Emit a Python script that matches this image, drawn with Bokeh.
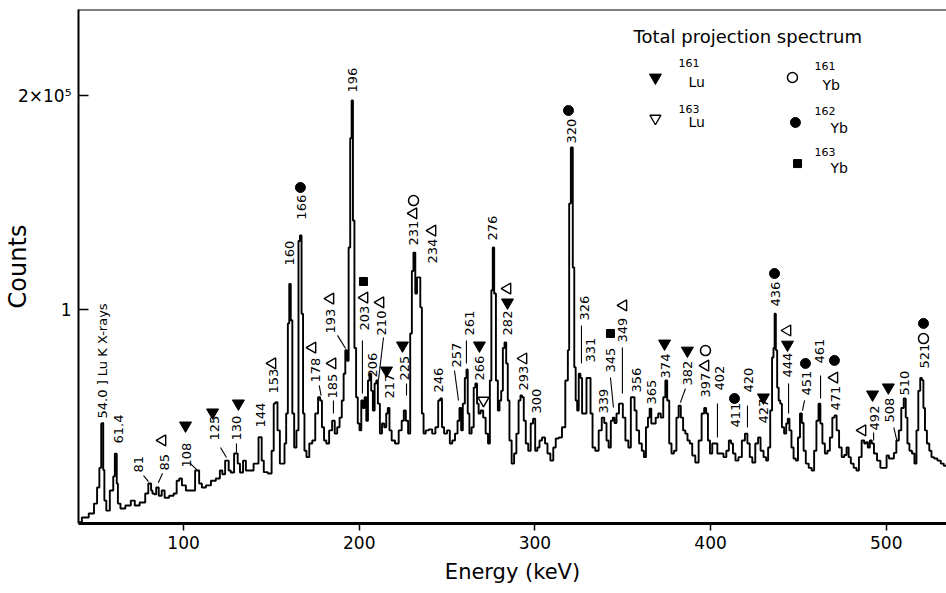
import math
from bokeh.plotting import figure
from bokeh.models import Range1d, FixedTicker, Label, Span
from bokeh.core.properties import value
from bokeh.embed import file_html
from bokeh.resources import INLINE

FONT = "DejaVu Sans"

# Total projection spectrum: energy (keV) and counts (in units of 10^3)
energy_kev = [
    40.2, 44, 48, 50, 51.5, 52.6, 53.6, 54.1, 54.4, 55.4,
    56.6, 59.4, 60.5, 61.2, 61.6, 62.3, 62.9, 65.2, 68.5, 71.4,
    73, 77, 79.3, 80.5, 81.2, 81.8, 82.7, 83.8, 85, 86.7,
    88.4, 90, 93.5, 95.2, 96.9, 98.2, 99.9, 102.7, 105.6, 107.5,
    108.1, 109.6, 111.2, 114.2, 116.9, 119.8, 121.5, 122.6, 124.7, 125.3,
    126, 127.7, 129.8, 130.4, 131.2, 133, 134.7, 136.2, 137.9, 141.8,
    143.5, 144.2, 144.7, 146.6, 149.3, 150.9, 151.7, 152.8, 154.1, 155.5,
    157, 157.9, 158.9, 159.8, 160.5, 161.5, 162.3, 163.6, 164.9, 165.9,
    166.6, 167.7, 168.3, 169.3, 170.6, 172.5, 174, 175.9, 177.2, 178.2,
    179.3, 180.6, 181.9, 183.8, 185.3, 186.8, 188.1, 189.5, 190.6, 191.6,
    192.5, 193.5, 194.4, 195.3, 196, 196.8, 197.7, 198.7, 199.6, 200.7,
    201.6, 202.5, 203.5, 204.5, 205.4, 206.3, 207.3, 208.2, 209.3, 210.1,
    211.1, 212.4, 213.5, 214.9, 215.8, 216.7, 217.7, 219.2, 221.5, 223.4,
    224.9, 225.8, 227.2, 228.4, 229.6, 230.3, 231.4, 232.4, 233.3, 234.3,
    235.2, 236.1, 237.1, 238.6, 240.6, 242.4, 244.3, 245.6, 246.6, 247.6,
    249, 250.9, 252.2, 253.7, 255.3, 256.6, 257.5, 258.5, 259.4, 260.8,
    261.3, 262.2, 263.2, 264.7, 265.6, 266.6, 267.5, 268.4, 269.9, 271.2,
    272.7, 273.9, 274.8, 275.6, 276.4, 277.2, 278.4, 279.4, 280.3, 281.3,
    282.2, 283.2, 284.1, 285, 286, 287.5, 288.8, 290.1, 291.3, 292.2,
    293.2, 294.1, 295.5, 296.9, 298.3, 299.6, 300.7, 302.1, 303.1, 305,
    306.5, 307.8, 309.8, 311.1, 312.6, 314.5, 316.3, 318.3, 319.2, 319.8,
    321.1, 322, 322.8, 323.6, 324.5, 325.4, 326.4, 327.3, 328.7, 330,
    331.1, 332.2, 333.4, 335.3, 337.3, 338.8, 340.1, 341.4, 342.5, 343.9,
    344.8, 345.8, 347.1, 348.6, 349.6, 350.5, 352.5, 353.9, 355.3, 356.2,
    357.2, 358.5, 360.1, 361.6, 362.5, 363.9, 364.8, 365.8, 366.7, 368,
    369.5, 370.9, 372.4, 373.7, 374.8, 375.8, 377.1, 378.4, 379.9, 381.2,
    382.4, 383.7, 385, 386.2, 387.5, 388.8, 390.3, 392.3, 394.1, 395.7,
    397, 397.9, 399.1, 400.2, 401.7, 403.2, 404.5, 406.4, 408.3, 409.6,
    411.2, 412.1, 413.4, 414.9, 416.8, 418.8, 420.3, 421.6, 423, 424.5,
    426.4, 427.7, 429.2, 431.1, 432.1, 433.4, 434.5, 435.5, 436.1, 436.8,
    437.5, 438.3, 439.2, 440.1, 441.1, 442.6, 443.5, 444.4, 445.4, 446.7,
    447.8, 449.2, 450.3, 451.5, 452.4, 453.5, 454.9, 456.8, 458.3, 459.6,
    460.9, 462, 463, 464.3, 465.8, 467.2, 468.6, 470, 471.1, 472.4,
    473.9, 475.4, 476.8, 478, 479.2, 480.5, 482.4, 483.7, 485.2, 486.8,
    488.1, 489, 490, 491.3, 492.2, 493.8, 495.7, 497.6, 499.5, 500.9,
    502.2, 503.7, 505, 506.5, 507.8, 509.3, 510.6, 511.6, 512.5, 513.9,
    515.4, 516.7, 517.7, 518.8, 519.9, 520.7, 521.6, 522.5, 523.8, 525.2,
    526.3, 528.2, 530.1, 532, 533.5, 534.3,
]
counts_k = [
    0.6, 2.8, 4.7, 9.3, 16.8, 26, 46.7, 47, 25, 10.7,
    6, 15.4, 22, 32.6, 32.6, 18.7, 9.3, 7, 8.4, 10.7,
    8.4, 9.8, 14, 18.7, 18.7, 15.4, 14, 13.6, 16.8, 13,
    15.4, 12, 13, 14, 20, 21, 17.8, 15.4, 15.4, 24.8,
    24.8, 18.7, 16.8, 17.8, 20, 21, 24.8, 23, 29.4, 29.4,
    24.8, 23.8, 32.7, 32.7, 28, 23.8, 29.4, 24.8, 24.8, 28,
    40.3, 40.3, 29.4, 24, 23.4, 34, 56, 56.7, 43.5, 28,
    28, 37.4, 51.4, 93.5, 112, 95, 51.4, 35.5, 43.5, 132,
    134.6, 98, 51.4, 34, 31, 37.4, 38.8, 51.4, 59, 57.5,
    45, 38.8, 37.4, 43.5, 48, 42, 45, 49.5, 57.5, 70,
    81, 76, 129, 180, 197.7, 141.6, 82, 59, 46.7, 43.5,
    57.5, 54, 59, 48, 66.8, 70, 62, 52.8, 65.4, 66.8,
    56, 42, 46.7, 45, 51.4, 54, 43.5, 38.8, 37.4, 43.5,
    48, 52.8, 48, 42, 88.8, 118, 126.6, 107.5, 115, 115,
    101, 51.4, 42, 43.5, 44, 42, 45, 57.5, 58.4, 45,
    42, 43.5, 37.4, 38.8, 42, 48, 54, 43.5, 56, 68,
    72, 51.4, 42, 45, 63.5, 65.4, 56, 51.4, 52.8, 49.5,
    42, 37.4, 66.8, 109, 129, 107.5, 66.8, 52.8, 57.5, 62,
    82, 84.6, 74.8, 57.5, 38.8, 28, 32.7, 42, 57.5, 59.8,
    59, 48, 37.4, 34, 46.7, 49, 34, 35.5, 38.8, 40.2,
    37.4, 32.7, 29.4, 35.5, 39.7, 40.2, 45, 66.8, 81, 149.5,
    175.7, 119.6, 73, 57.5, 52.8, 70, 68, 51.4, 51.4, 68,
    68, 51.4, 35.5, 34, 43.5, 49.5, 47, 38.8, 35.5, 48,
    49.5, 47, 51.4, 56, 56, 49.5, 38.8, 35.5, 59, 59,
    52.8, 43.5, 37.4, 34, 31, 45, 49.5, 53.7, 46.7, 46.7,
    49.5, 51.4, 49.5, 59, 66.8, 57.5, 37.4, 32.7, 34, 49.5,
    55, 49.5, 43.5, 42, 38.8, 37.4, 31.8, 28.5, 38.8, 51.4,
    54, 51.4, 38.8, 32.7, 37.4, 37.4, 32.7, 32.7, 31, 34,
    38.8, 37.4, 32.7, 29.4, 31, 38.8, 42, 37.4, 31, 28.5,
    37.4, 40.2, 34, 31, 29.4, 35.5, 52.8, 77.6, 82, 98,
    81, 63.5, 57.5, 56, 45, 42, 46.7, 49, 43.5, 35.5,
    30.4, 29.4, 40.2, 51.4, 47, 34, 28, 26, 24.8, 34,
    48, 56, 46.7, 37.4, 32.7, 34, 40.2, 49.5, 50.5, 43.5,
    35.5, 31, 32, 35.5, 31, 28, 26, 24.8, 31, 38.8,
    37.4, 38, 35.5, 38.8, 37.4, 32.7, 29.4, 26, 26, 31.8,
    30.4, 30.4, 33, 38.8, 43.5, 54, 58.4, 49.5, 37.4, 34,
    32.7, 28, 43.5, 62, 68, 67, 54, 43.5, 37.4, 34,
    31, 30.4, 29.4, 28, 27, 27,
]

# Peak labels (energies in keV) with the point where each vertical label starts
peak_labels = ["54.0 ] Lu K X-rays", "61.4", "81", "85", "108", "125", "130", "144",
               "153", "160", "166", "178", "185", "193", "196", "203", "206", "210",
               "217", "225", "231", "234", "246", "257", "261", "266", "276", "282",
               "293", "300", "320", "326", "331", "339", "345", "349", "356", "365",
               "374", "382", "397", "402", "411", "420", "427", "436", "444", "451",
               "461", "471", "492", "508", "510", "521"]
label_x = [54.1, 62.7, 74.3, 89.1, 101.7, 117.6, 130.1, 143.8,
           151.2, 160.3, 167.1, 175.1, 184.8, 183.6, 196.1, 203.0, 207.5, 212.7,
           217.2, 225.7, 230.9, 241.7, 245.1, 255.3, 262.7, 268.4, 275.8, 284.4,
           293.5, 300.9, 320.8, 328.2, 331.6, 339.0, 343.0, 349.8, 357.8, 366.3,
           374.3, 386.8, 397.1, 405.0, 414.2, 421.6, 430.1, 436.9, 443.8, 454.6,
           462.0, 471.1, 493.3, 501.8, 510.4, 521.8]
label_y = [49.1, 37.4, 23.8, 24.8, 26.2, 38.8, 38.8, 44.9,
           60.7, 120.6, 142.0, 65.9, 58.4, 88.8, 201.4, 90.2, 68.2, 87.9,
           58.4, 66.8, 129.9, 121.5, 61.2, 72.9, 87.9, 66.8, 132.2, 87.9,
           62.1, 51.4, 177.6, 94.9, 75.2, 51.4, 70.6, 84.6, 61.2, 55.6,
           67.8, 64.5, 58.9, 62.1, 44.9, 61.2, 46.7, 101.4, 68.2, 59.8,
           74.8, 52.8, 43.5, 47.2, 59.8, 72.4]

# Leader lines joining labels to their peaks
lead_x0 = [77.2, 85.6, 103.9, 121.0, 130.1, 177.2, 185.3, 187.6, 201.8, 213.8, 226.9, 254.2,
           261.0, 326.5, 343.0, 349.8, 385.7, 403.9, 421.0, 444.4, 453.5, 462.6, 492.8, 504.3]
lead_y0 = [22.4, 19.0, 28.0, 35.5, 37.4, 64.5, 57.5, 87.9, 85.5, 86.9, 65.4, 71.5,
           85.5, 92.5, 68.2, 82.2, 63.1, 56.1, 55.1, 65.4, 57.5, 69.2, 42.5, 44.9]
lead_x1 = [80.0, 88.0, 107.9, 124.4, 130.1, 178.3, 185.3, 192.2, 201.8, 210.9, 226.9, 256.5,
           261.0, 326.5, 344.7, 349.8, 382.8, 403.9, 421.0, 444.4, 452.3, 462.6, 492.8, 506.0]
lead_y1 = [19.6, 23.5, 24.8, 30.8, 33.2, 59.8, 51.4, 81.8, 60.7, 66.8, 59.8, 57.5,
           74.8, 74.8, 54.2, 60.7, 56.5, 40.2, 44.9, 51.4, 52.8, 58.4, 38.8, 38.8]

# Isotope assignment symbols
lu161_x = [101.1, 116.5, 131.2, 215.5, 224.6, 268.4, 284.4, 373.8, 386.8, 430.1, 443.8, 492.2, 501.2]
lu161_y = [45.8, 51.9, 56.1, 71.5, 83.2, 83.2, 103.3, 84.1, 80.8, 58.9, 83.6, 60.3, 63.6]
lu163_x = [88.0, 150.6, 173.4, 184.8, 183.6, 203.0, 212.1, 230.9, 241.7, 284.4, 293.5,
           350.4, 397.1, 443.8, 470.5, 486.5]
lu163_y = [38.8, 74.8, 82.2, 74.8, 105.1, 105.6, 103.3, 144.9, 136.9, 109.8, 77.1,
           101.9, 73.8, 90.2, 68.2, 43.5]
lu163_down_x = [270.7]
lu163_down_y = [57.5]
yb161_x = [230.9, 397.1, 521.2]
yb161_y = [150.9, 80.8, 86.4]
yb162_x = [166.5, 319.1, 413.6, 436.4, 454.0, 470.5, 521.2]
yb162_y = [157.0, 193.0, 58.4, 116.8, 74.8, 76.2, 93.5]
yb163_x = [202.4, 343.0]
yb163_y = [113.1, 88.8]

x_ticks = [100, 200, 300, 400, 500]
y_ticks = [100, 200]
y_tick_text = ["1", "2\u00d710\u2075"]

p = figure(width=946, height=593, output_backend="svg", toolbar_location=None,
           x_range=Range1d(40.17, 534.3), y_range=Range1d(0, 240.2),
           min_border_left=78, min_border_right=0, min_border_top=9, min_border_bottom=70)
p.outline_line_color = None
p.xgrid.visible = False
p.ygrid.visible = False
p.background_fill_color = "white"
p.border_fill_color = "white"

# axes
p.xaxis.ticker = FixedTicker(ticks=x_ticks)
p.yaxis.ticker = FixedTicker(ticks=y_ticks)
p.yaxis.major_label_overrides = {t: s for t, s in zip(y_ticks, y_tick_text)}
for ax in (p.xaxis, p.yaxis):
    ax.minor_tick_line_color = None
    ax.axis_line_color = "black"
    ax.major_tick_line_color = "black"
    ax.major_tick_line_width = 1.5
    ax.major_label_text_font = FONT
    ax.major_label_text_font_size = "17px"
    ax.major_label_text_color = "black"
    ax.axis_label_text_font = FONT
    ax.axis_label_text_font_style = "normal"
    ax.axis_label_text_color = "black"
p.xaxis.axis_line_width = 3
p.yaxis.axis_line_width = 2
p.xaxis.major_tick_in = 0
p.xaxis.major_tick_out = 7
p.xaxis.major_label_standoff = 5
p.yaxis.major_tick_in = 10
p.yaxis.major_tick_out = 0
p.yaxis.major_label_standoff = 7

p.xaxis.axis_label = "Energy (keV)"
p.xaxis.axis_label_text_font_size = "21px"
p.xaxis.axis_label_standoff = 8
p.yaxis.axis_label = "Counts"
p.yaxis.axis_label_text_font_size = "24px"
p.yaxis.axis_label_standoff = -17

p.add_layout(Span(location=240.2, dimension="width", line_color="black", line_width=2))

# spectrum
p.step(energy_kev, counts_k, mode="center", line_color="black", line_width=1.9)

# leaders and labels
p.segment(lead_x0, lead_y0, lead_x1, lead_y1, line_color="black", line_width=1.1)
p.text(label_x, label_y, text=peak_labels, angle=math.pi / 2, text_align="left",
       text_baseline="middle", text_font=value(FONT), text_font_size="13px", text_color="black")

# isotope symbols
p.scatter(lu161_x, lu161_y, marker="inverted_triangle", size=12, fill_color="black", line_color="black")
p.scatter(lu163_x, lu163_y, marker="triangle", angle=math.pi / 2, size=11, fill_color=None,
          line_color="black", line_width=1.4)
p.scatter(lu163_down_x, lu163_down_y, marker="inverted_triangle", size=11, fill_color=None,
          line_color="black", line_width=1.4)
p.scatter(yb161_x, yb161_y, marker="circle", size=10, fill_color=None, line_color="black", line_width=1.5)
p.scatter(yb162_x, yb162_y, marker="circle", size=10, fill_color="black", line_color="black")
p.scatter(yb163_x, yb163_y, marker="square", size=8, fill_color="black", line_color="black")

# key
p.add_layout(Label(x=356.1, y=227.6, text="Total projection spectrum", text_font=FONT,
                   text_font_size="18px", text_color="black", text_align="left",
                   text_baseline="alphabetic"))
p.scatter([368.6], [208.4], marker="inverted_triangle", size=12, fill_color="black", line_color="black")
p.scatter([368.6], [189.3], marker="inverted_triangle", size=11, fill_color=None,
          line_color="black", line_width=1.4)
p.scatter([446.6], [208.4], marker="circle", size=10, fill_color=None, line_color="black", line_width=1.5)
p.scatter([448.3], [187.4], marker="circle", size=10, fill_color="black", line_color="black")
p.scatter([449.5], [168.2], marker="square", size=8, fill_color="black", line_color="black")
key_mass = ["161", "163", "161", "162", "163"]
key_elem = ["Lu", "Lu", "Yb", "Yb", "Yb"]
key_mass_x = [381.7, 381.7, 459.1, 459.1, 459.1]
key_mass_y = [215.0, 193.9, 214.0, 193.0, 173.8]
key_elem_x = [387.4, 387.4, 463.7, 468.2, 468.2]
key_elem_y = [206.5, 187.4, 204.7, 185.0, 165.9]
p.text(key_mass_x, key_mass_y, text=key_mass, text_align="left", text_baseline="middle",
       text_font=value(FONT), text_font_size="11px", text_color="black")
p.text(key_elem_x, key_elem_y, text=key_elem, text_align="left", text_baseline="middle",
       text_font=value(FONT), text_font_size="14px", text_color="black")

open("out.html", "w").write(file_html(p, INLINE))
